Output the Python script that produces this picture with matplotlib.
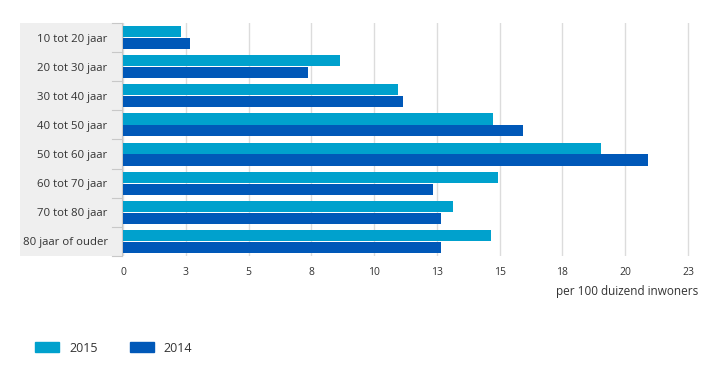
import numpy as np
import matplotlib.pyplot as plt
from matplotlib.patches import Rectangle, Patch
from matplotlib.lines import Line2D

# Leeftijdsgroepen en waarden (per 100 duizend inwoners)
categorieen = ['10 tot 20 jaar', '20 tot 30 jaar', '30 tot 40 jaar', '40 tot 50 jaar',
               '50 tot 60 jaar', '60 tot 70 jaar', '70 tot 80 jaar', '80 jaar of ouder']
waarden_2015 = [2.3, 8.65, 10.95, 14.75, 19.05, 14.95, 13.15, 14.65]
waarden_2014 = [2.65, 7.35, 11.15, 15.95, 20.9, 12.35, 12.65, 12.65]
x_ticks = [0, 2.5, 5, 7.5, 10, 12.5, 15, 17.5, 20, 22.5]
x_ticklabels = ['0', '3', '5', '8', '10', '13', '15', '18', '20', '23']

kleur_2015 = '#00a1cd'
kleur_2014 = '#0058b8'
tekst = '#333333'

plt.rcParams['font.family'] = ['Open Sans', 'DejaVu Sans']

W, H = 716, 373
fig = plt.figure(figsize=(W / 100, H / 100), dpi=100)

# grijs paneel achter de categorielabels
fig.patches.append(Rectangle((20 / W, 1 - 256 / H), 102 / W, 233 / H,
                             transform=fig.transFigure, facecolor='#efefef',
                             edgecolor='none', zorder=-2))
fig.lines.append(Line2D([122 / W, 122 / W], [1 - 256 / H, 1 - 23 / H],
                        transform=fig.transFigure, color='#c8c8c8', lw=0.8,
                        zorder=-1))
for i in range(9):
    yy = 1 - (23 + i * 29.1) / H
    fig.lines.append(Line2D([112 / W, 122 / W], [yy, yy],
                            transform=fig.transFigure, color='#c8c8c8', lw=0.8,
                            zorder=-1))

ax = fig.add_axes([123 / W, 1 - 256 / H, 575 / W, 233 / H])
ax.set_facecolor('none')

y = np.arange(len(categorieen))
ax.barh(y - 0.205, waarden_2015, height=0.38, color=kleur_2015, zorder=3)
ax.barh(y + 0.205, waarden_2014, height=0.38, color=kleur_2014, zorder=3)

ax.set_ylim(len(categorieen) - 0.5, -0.5)
ax.set_xlim(0, 22.9)
ax.set_yticks(y)
ax.set_yticklabels(categorieen, fontsize=8.2, color=tekst)
ax.set_xticks(x_ticks)
ax.set_xticklabels(x_ticklabels, fontsize=7.5, color=tekst)
ax.tick_params(axis='y', length=0, pad=11)
ax.tick_params(axis='x', length=0, pad=8)
ax.grid(axis='x', color='#dcdcdc', lw=1, zorder=0)
for s in ax.spines.values():
    s.set_visible(False)

ax.set_xlabel('per 100 duizend inwoners', fontsize=8.5, color=tekst, loc='right',
              labelpad=5)

handles = [Patch(color=kleur_2015), Patch(color=kleur_2014)]
fig.legend(handles, ['2015', '2014'], loc='center left',
           bbox_to_anchor=(24 / W, 1 - 348 / H), ncol=2, frameon=False,
           fontsize=9, handlelength=1.9, handleheight=0.8, columnspacing=2.6,
           handletextpad=0.8, labelcolor=tekst)

fig.savefig('out.png', dpi=100)
